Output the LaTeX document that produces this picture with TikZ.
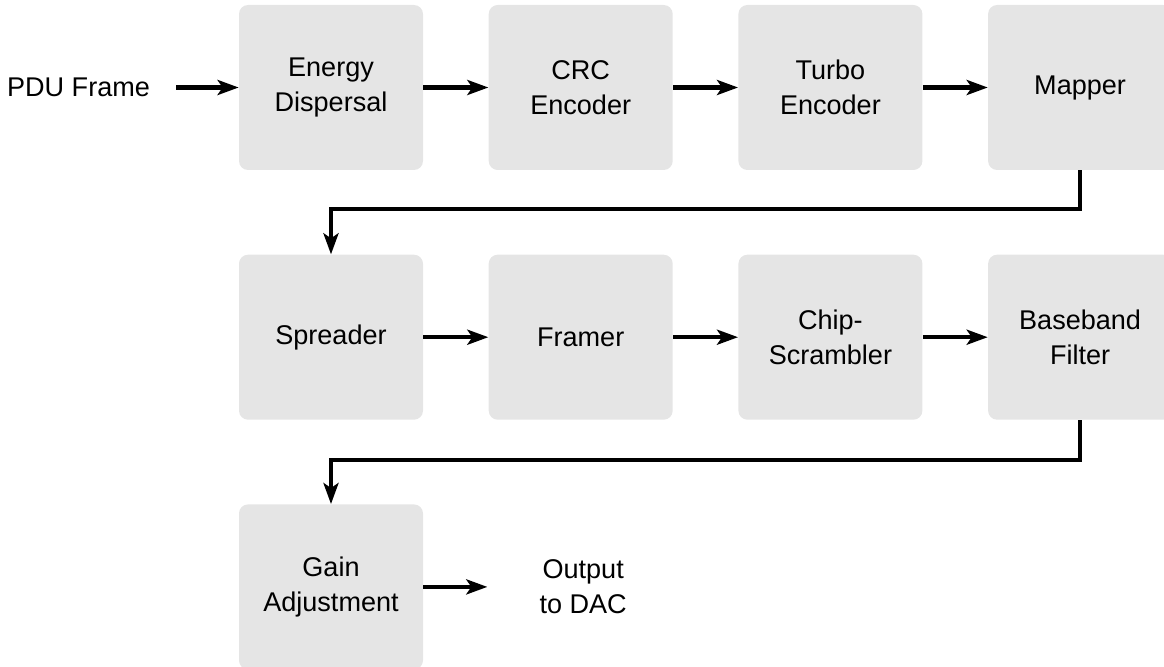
\documentclass[tikz,border=0pt]{standalone}
\usepackage{fontspec}
\setmainfont{Liberation Sans}
\usetikzlibrary{positioning,arrows.meta}
\definecolor{blockgray}{RGB}{229,229,229}
\begin{document}
\begin{tikzpicture}[
  block/.style={fill=blockgray, rounded corners=0.18cm, minimum width=3.68cm, minimum height=3.3cm,
    align=center, font=\fontsize{15.4}{19.8}\selectfont},
  txt/.style={align=center, font=\fontsize{15.4}{19.8}\selectfont},
  flow/.style={line width=2.3pt, -{Stealth[length=0.42cm, width=0.3cm, inset=0.1cm]}},
  node distance=1.3cm and 1.3cm]
  \clip (0,0) rectangle (23.28,-13.34); % 画像の範囲
  % 1段目
  \node[block] (ed) at (6.62,-1.75) {Energy\\Dispersal};
  \node[block, right=of ed] (crc) {CRC\\Encoder};
  \node[block, right=of crc] (turbo) {Turbo\\Encoder};
  \node[block, right=of turbo] (map) {Mapper};
  % 2段目
  \node[block, below=1.68cm of ed] (spr) {Spreader};
  \node[block, right=of spr] (frm) {Framer};
  \node[block, right=of frm] (chip) {Chip-\\Scrambler};
  \node[block, right=of chip] (bbf) {Baseband\\Filter};
  % 3段目
  \node[block, below=1.68cm of spr] (gain) {Gain\\Adjustment};
  \node[txt, right=2.2cm of gain] (out) {Output\\to DAC};
  \node[txt, left=1.65cm of ed] (pdu) {PDU Frame};
  \coordinate (in) at ([xshift=-1.25cm]ed.west); % 入力矢印の始点
  % 矢印
  \draw[flow] (in) -- (ed);
  \draw[flow] (ed) -- (crc);
  \draw[flow] (crc) -- (turbo);
  \draw[flow] (turbo) -- (map);
  \draw[flow] (map.south) -- ++(0,-0.78) -| (spr.north);
  \draw[flow] (spr) -- (frm);
  \draw[flow] (frm) -- (chip);
  \draw[flow] (chip) -- (bbf);
  \draw[flow] (bbf.south) -- ++(0,-0.8) -| (gain.north);
  \draw[flow] (gain.east) -- ++(1.28,0);
\end{tikzpicture}
\end{document}
